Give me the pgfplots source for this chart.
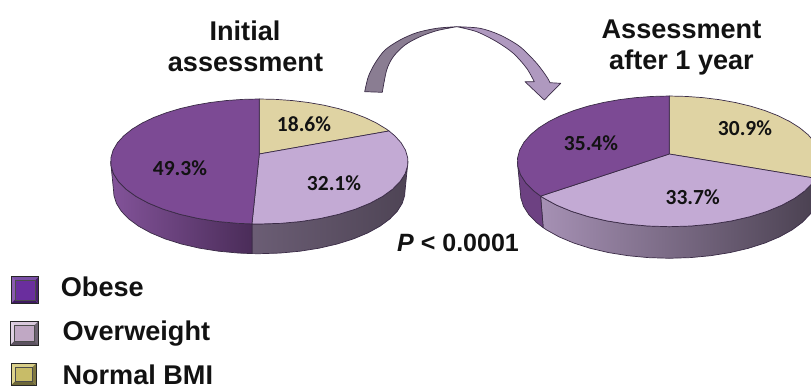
\documentclass[border=0pt]{standalone}
\usepackage{pgfplots}
\pgfplotsset{compat=1.18}
\usepackage{pgfplotstable}
\usepackage{fontspec}
\setmainfont{Liberation Sans}
\newfontfamily\labelfont{Carlito}[BoldFont=Carlito Bold]

\definecolor{obeseTop}{HTML}{7C4A94}
\definecolor{overTop}{HTML}{C3AAD4}
\definecolor{normalTop}{HTML}{DFD3A3}
\definecolor{rimLine}{HTML}{3A2B46}

% Swatch bevels: top, left, right, bottom, centre
\definecolor{obT}{HTML}{7A4FA6}\definecolor{obL}{HTML}{8A5BB0}\definecolor{obR}{HTML}{4A2070}\definecolor{obB}{HTML}{3E1A60}\definecolor{obC}{HTML}{6A2E9E}
\definecolor{ovT}{HTML}{D8C8DC}\definecolor{ovL}{HTML}{E0D2E4}\definecolor{ovR}{HTML}{6E6472}\definecolor{ovB}{HTML}{5C5260}\definecolor{ovC}{HTML}{C0A8C4}
\definecolor{noT}{HTML}{D8CE88}\definecolor{noL}{HTML}{DED48C}\definecolor{noR}{HTML}{807840}\definecolor{noB}{HTML}{6E6838}\definecolor{noC}{HTML}{C8BC68}

\tikzset{
  value/.style={anchor=center,inner sep=0pt,text=black!93,font=\labelfont\bfseries\fontsize{21.5}{24}\selectfont},
  big/.style={anchor=base,inner sep=0pt,text=black!93,font=\bfseries\fontsize{27.1}{30}\selectfont},
  key/.style={big,anchor=base west},
}

% Rim positions in percent of the pie; r=0 is the apex, z=1 the lower edge of the wall
\pgfplotstableread[row sep=\\]{p r z\\ 0 0 0\\ 0 1 0\\ 2 1 0\\ 4 1 0\\ 6 1 0\\ 8 1 0\\ 10 1 0\\ 12 1 0\\ 14 1 0\\ 16 1 0\\ 18 1 0\\ 18.6 1 0\\}\firstNormal
\pgfplotstableread[row sep=\\]{p r z\\ 0 0 0\\ 18.6 1 0\\ 20 1 0\\ 22 1 0\\ 24 1 0\\ 26 1 0\\ 28 1 0\\ 30 1 0\\ 32 1 0\\ 34 1 0\\ 36 1 0\\ 38 1 0\\ 40 1 0\\ 42 1 0\\ 44 1 0\\ 46 1 0\\ 48 1 0\\ 50 1 0\\ 50.7 1 0\\}\firstOver
\pgfplotstableread[row sep=\\]{p r z\\ 0 0 0\\ 50.7 1 0\\ 52 1 0\\ 54 1 0\\ 56 1 0\\ 58 1 0\\ 60 1 0\\ 62 1 0\\ 64 1 0\\ 66 1 0\\ 68 1 0\\ 70 1 0\\ 72 1 0\\ 74 1 0\\ 76 1 0\\ 78 1 0\\ 80 1 0\\ 82 1 0\\ 84 1 0\\ 86 1 0\\ 88 1 0\\ 90 1 0\\ 92 1 0\\ 94 1 0\\ 96 1 0\\ 98 1 0\\ 100 1 0\\}\firstObese
\pgfplotstableread[row sep=\\]{p r z\\ 26.9 1 0\\ 28 1 0\\ 30 1 0\\ 32 1 0\\ 34 1 0\\ 36 1 0\\ 38 1 0\\ 40 1 0\\ 42 1 0\\ 44 1 0\\ 46 1 0\\ 48 1 0\\ 50 1 0\\ 50.7 1 0\\ 50.7 1 1\\ 50 1 1\\ 48 1 1\\ 46 1 1\\ 44 1 1\\ 42 1 1\\ 40 1 1\\ 38 1 1\\ 36 1 1\\ 34 1 1\\ 32 1 1\\ 30 1 1\\ 28 1 1\\ 26.9 1 1\\}\firstOverWall
\pgfplotstableread[row sep=\\]{p r z\\ 50.7 1 0\\ 52 1 0\\ 54 1 0\\ 56 1 0\\ 58 1 0\\ 60 1 0\\ 62 1 0\\ 64 1 0\\ 66 1 0\\ 68 1 0\\ 70 1 0\\ 72 1 0\\ 73.1 1 0\\ 73.1 1 1\\ 72 1 1\\ 70 1 1\\ 68 1 1\\ 66 1 1\\ 64 1 1\\ 62 1 1\\ 60 1 1\\ 58 1 1\\ 56 1 1\\ 54 1 1\\ 52 1 1\\ 50.7 1 1\\}\firstObeseWall

\pgfplotstableread[row sep=\\]{p r z\\ 0 0 0\\ 0 1 0\\ 2 1 0\\ 4 1 0\\ 6 1 0\\ 8 1 0\\ 10 1 0\\ 12 1 0\\ 14 1 0\\ 16 1 0\\ 18 1 0\\ 20 1 0\\ 22 1 0\\ 24 1 0\\ 26 1 0\\ 28 1 0\\ 30 1 0\\ 30.9 1 0\\}\laterNormal
\pgfplotstableread[row sep=\\]{p r z\\ 0 0 0\\ 30.9 1 0\\ 32 1 0\\ 34 1 0\\ 36 1 0\\ 38 1 0\\ 40 1 0\\ 42 1 0\\ 44 1 0\\ 46 1 0\\ 48 1 0\\ 50 1 0\\ 52 1 0\\ 54 1 0\\ 56 1 0\\ 58 1 0\\ 60 1 0\\ 62 1 0\\ 64 1 0\\ 64.6 1 0\\}\laterOver
\pgfplotstableread[row sep=\\]{p r z\\ 0 0 0\\ 64.6 1 0\\ 66 1 0\\ 68 1 0\\ 70 1 0\\ 72 1 0\\ 74 1 0\\ 76 1 0\\ 78 1 0\\ 80 1 0\\ 82 1 0\\ 84 1 0\\ 86 1 0\\ 88 1 0\\ 90 1 0\\ 92 1 0\\ 94 1 0\\ 96 1 0\\ 98 1 0\\ 100 1 0\\}\laterObese
\pgfplotstableread[row sep=\\]{p r z\\ 30.9 1 0\\ 32 1 0\\ 34 1 0\\ 36 1 0\\ 38 1 0\\ 40 1 0\\ 42 1 0\\ 44 1 0\\ 46 1 0\\ 48 1 0\\ 50 1 0\\ 52 1 0\\ 54 1 0\\ 56 1 0\\ 58 1 0\\ 60 1 0\\ 62 1 0\\ 64 1 0\\ 64.6 1 0\\ 64.6 1 1\\ 64 1 1\\ 62 1 1\\ 60 1 1\\ 58 1 1\\ 56 1 1\\ 54 1 1\\ 52 1 1\\ 50 1 1\\ 48 1 1\\ 46 1 1\\ 44 1 1\\ 42 1 1\\ 40 1 1\\ 38 1 1\\ 36 1 1\\ 34 1 1\\ 32 1 1\\ 30.9 1 1\\}\laterOverWall
\pgfplotstableread[row sep=\\]{p r z\\ 64.6 1 0\\ 66 1 0\\ 68 1 0\\ 70 1 0\\ 72 1 0\\ 73.2 1 0\\ 73.2 1 1\\ 72 1 1\\ 70 1 1\\ 68 1 1\\ 66 1 1\\ 64.6 1 1\\}\laterObeseWall

% Perspective view of a pie: centre (cx,cy), radii X and Y, foreshortening k, wall depth d
\pgfplotsset{
  /pgfplots/table/first pie/.style={
    x expr={259.3+147.6*(1-0.02*\thisrow{z})*\thisrow{r}*sin(3.6*\thisrow{p})/(1+0.12*\thisrow{r}*cos(3.6*\thisrow{p}))},
    y expr={154-61.6*\thisrow{r}*cos(3.6*\thisrow{p})/(1+0.12*\thisrow{r}*cos(3.6*\thisrow{p}))+29.7*\thisrow{z}}},
  /pgfplots/table/later pie/.style={
    x expr={669.3+151*(1-0.02*\thisrow{z})*\thisrow{r}*sin(3.6*\thisrow{p})/(1+0.1125*\thisrow{r}*cos(3.6*\thisrow{p}))},
    y expr={154-64.5*\thisrow{r}*cos(3.6*\thisrow{p})/(1+0.1125*\thisrow{r}*cos(3.6*\thisrow{p}))+31.6*\thisrow{z}}},
  slice/.style={draw=rimLine,line width=0.7pt,line join=round,no markers},
}

% Bevelled legend swatch: outer box, inner box, colour prefix
\newcommand\swatch[9]{%
  \addplot[fill=#9T,draw=none,forget plot] coordinates {(#1,#3) (#2,#3) (#6,#7) (#5,#7)} -- cycle;
  \addplot[fill=#9L,draw=none,forget plot] coordinates {(#1,#3) (#5,#7) (#5,#8) (#1,#4)} -- cycle;
  \addplot[fill=#9R,draw=none,forget plot] coordinates {(#2,#3) (#2,#4) (#6,#8) (#6,#7)} -- cycle;
  \addplot[fill=#9B,draw=none,forget plot] coordinates {(#1,#4) (#5,#8) (#6,#8) (#2,#4)} -- cycle;
  \addplot[fill=#9C,draw=black!70,line width=0.3pt,forget plot] coordinates {(#5,#7) (#6,#7) (#6,#8) (#5,#8)} -- cycle;
  \addplot[draw=black!85,line width=0.8pt,fill=none,forget plot] coordinates {(#1,#3) (#2,#3) (#2,#4) (#1,#4)} -- cycle;
}

\begin{document}
\begin{tikzpicture}
\useasboundingbox (0,0) rectangle (811pt,387pt);
\begin{axis}[
  hide axis,
  scale only axis,
  anchor=south west,
  at={(0,0)},
  width=811pt,height=387pt,
  xmin=0,xmax=811,ymin=0,ymax=387,
  y dir=reverse,
]
  % Initial assessment
  \addplot[slice,left color=overTop!55!black,middle color=overTop!45!black,right color=overTop!40!black] table[first pie] {\firstOverWall} -- cycle;
  \addplot[slice,left color=obeseTop!95!white,middle color=obeseTop!80!black,right color=obeseTop!60!black] table[first pie] {\firstObeseWall} -- cycle;
  \addplot[slice,fill=normalTop] table[first pie] {\firstNormal} -- cycle;
  \addplot[slice,fill=overTop] table[first pie] {\firstOver} -- cycle;
  \addplot[slice,fill=obeseTop] table[first pie] {\firstObese} -- cycle;

  % Assessment after one year
  \addplot[slice,left color=overTop!85!black,middle color=overTop!52!black,right color=overTop!38!black] table[later pie] {\laterOverWall} -- cycle;
  \addplot[slice,fill=obeseTop!88!black] table[later pie] {\laterObeseWall} -- cycle;
  \addplot[slice,fill=normalTop] table[later pie] {\laterNormal} -- cycle;
  \addplot[slice,fill=overTop] table[later pie] {\laterOver} -- cycle;
  \addplot[slice,fill=obeseTop] table[later pie] {\laterObese} -- cycle;

  % Curved arrow between the two pies
  \draw[draw=rimLine,line width=0.7pt,fill=black!40!overTop!85!white,line join=round]
    plot[smooth] coordinates {(364.7,91.7) (368.3,76.7) (375,63.3) (385,50) (400,40) (416.7,32.7) (436.7,28.3) (456.7,26.7)}
    -- plot[smooth] coordinates {(456.7,26.7) (436.7,30.7) (420,36.7) (405,45) (393.3,56.7) (386.7,70) (382.3,92.3)} -- cycle;
  \draw[draw=rimLine,line width=0.7pt,fill=overTop!90!black,line join=round]
    plot[smooth] coordinates {(456.7,26.7) (480,28.3) (500,35) (520,46.7) (536.7,63.3) (546.7,76.7) (550,82.7)}
    -- (560.7,83.3) -- (544.3,100) -- (525,81.7) -- (534.3,81.7)
    -- plot[smooth] coordinates {(534.3,81.7) (526.7,68.3) (513.3,53.3) (496.7,41.7) (476.7,31.7) (456.7,26.7)} -- cycle;

  % Legend swatches
  \swatch{11}{38.7}{276.3}{303.7}{15}{34.7}{280.3}{299.7}{ob}
  \swatch{10}{38.6}{321}{345.3}{14}{34.6}{325}{341.3}{ov}
  \swatch{11}{36.3}{363.3}{385.3}{15}{32.3}{367.3}{381.3}{no}

  % Slice values
  \node[value] at (180,168.3) {49.3\%};
  \node[value] at (304,124) {18.6\%};
  \node[value] at (334,182.7) {32.1\%};
  \node[value] at (591,143.3) {35.4\%};
  \node[value] at (745,128.3) {30.9\%};
  \node[value] at (692.7,196.7) {33.7\%};

  % Titles, test result and legend text
  \node[big] at (245,41) {Initial};
  \node[big] at (245.5,72) {assessment};
  \node[big] at (681.5,39) {Assessment};
  \node[big] at (681.5,70) {after 1 year};
  \node[big,font=\bfseries\fontsize{25}{30}\selectfont] at (458,252) {\textit{P} < 0.0001};
  \node[key] at (60.7,296.7) {Obese};
  \node[key] at (62.3,340) {Overweight};
  \node[key] at (62.3,384) {Normal BMI};
\end{axis}
\end{tikzpicture}
\end{document}
